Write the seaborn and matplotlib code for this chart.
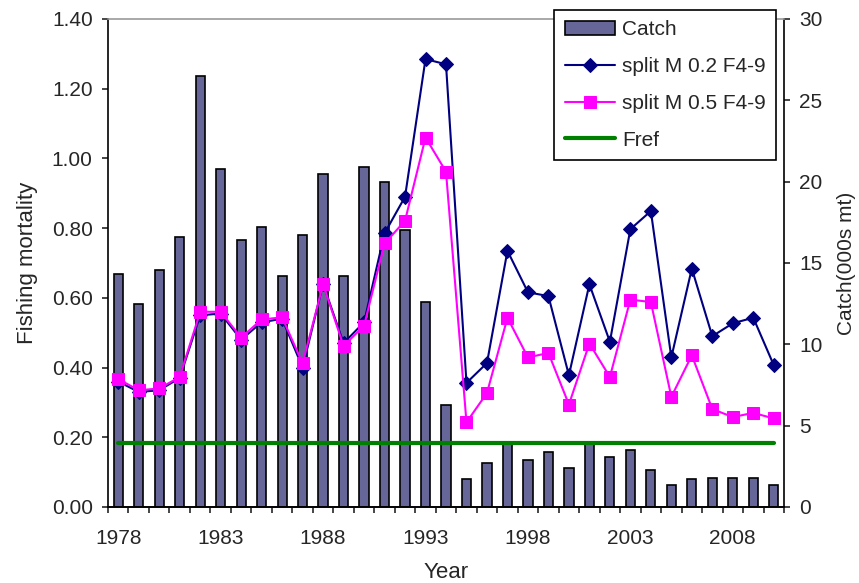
import numpy as np
import pandas as pd
import matplotlib
matplotlib.use("Agg")
import matplotlib.pyplot as plt
import seaborn as sns

# data
years = list(range(1978, 2011))
catch = [14.3, 12.5, 14.6, 16.6, 26.5, 20.8, 16.4, 17.2, 14.2, 16.7,
         20.5, 14.2, 20.9, 20.0, 17.0, 12.6, 6.3, 1.7, 2.7, 4.0,
         2.9, 3.4, 2.4, 4.0, 3.05, 3.5, 2.3, 1.35, 1.7, 1.8,
         1.8, 1.8, 1.35]
f_m02 = [0.36, 0.33, 0.335, 0.37, 0.55, 0.555, 0.48, 0.53, 0.54, 0.40,
         0.64, 0.47, 0.53, 0.785, 0.89, 1.285, 1.27, 0.356, 0.413, 0.735,
         0.616, 0.605, 0.378, 0.639, 0.474, 0.797, 0.849, 0.429, 0.684, 0.49,
         0.527, 0.543, 0.407]
f_m05 = [0.367, 0.335, 0.34, 0.373, 0.56, 0.56, 0.486, 0.538, 0.544, 0.412,
         0.639, 0.462, 0.52, 0.756, 0.821, 1.06, 0.962, 0.243, 0.327, 0.543,
         0.429, 0.442, 0.294, 0.469, 0.373, 0.595, 0.588, 0.316, 0.435, 0.281,
         0.258, 0.27, 0.254]
fref = 0.185
year_labels = [1978, 1983, 1988, 1993, 1998, 2003, 2008]

df = pd.DataFrame({"Year": years, "Catch": catch, "M02": f_m02, "M05": f_m05})

sns.set_style("ticks")
plt.rcParams["font.family"] = ["Liberation Sans", "DejaVu Sans"]
fs = 15
fs_lab = 16

fig = plt.figure(figsize=(8.59, 5.83), dpi=100)
ax = fig.add_axes([108 / 859, 1 - 507 / 583, 676 / 859, 488 / 583])
ax2 = ax.twinx()

# catch bars on the right axis, drawn underneath
sns.barplot(data=df, x="Year", y="Catch", native_scale=True, width=0.45,
            color="#666699", saturation=1, edgecolor="black", linewidth=1.2,
            ax=ax2, label="Catch")
ax.set_zorder(ax2.get_zorder() + 1)
ax.patch.set_visible(False)

sns.lineplot(data=df, x="Year", y="M02", ax=ax, color="#000080", lw=1.5,
             marker="D", markersize=7, markeredgecolor="#000080",
             label="split M 0.2 F4-9")
sns.lineplot(data=df, x="Year", y="M05", ax=ax, color="#FF00FF", lw=1.5,
             marker="s", markersize=9, markeredgecolor="#FF00FF",
             label="split M 0.5 F4-9")
ax.plot(years, [fref] * len(years), color="#008000", lw=3, label="Fref")

ax.set_xlim(1977.5, 2010.5)
ax.set_ylim(0, 1.4)
ax2.set_ylim(0, 30)
ax.set_yticks(np.arange(0, 1.41, 0.2))
ax.set_yticklabels([f"{v:.2f}" for v in np.arange(0, 1.41, 0.2)])
ax2.set_yticks(range(0, 31, 5))

ax.set_xticks(np.arange(1977.5, 2011, 1))
ax.set_xticklabels([])
ax.set_xticks(year_labels, minor=True)
ax.set_xticklabels([str(y) for y in year_labels], minor=True)
ax.tick_params(axis="x", which="major", length=4, width=1.2, direction="out")
ax.tick_params(axis="x", which="minor", length=0, pad=16, labelsize=fs)
ax.tick_params(axis="y", length=4, width=1.2, pad=7, labelsize=fs)
ax2.tick_params(axis="y", length=4, width=1.2, pad=7, labelsize=fs)

ax.set_xlabel("Year", fontsize=fs_lab, labelpad=10)
ax.set_ylabel("Fishing mortality", fontsize=fs_lab, labelpad=10)
ax2.set_ylabel("Catch(000s mt)", fontsize=fs, labelpad=10)
ax2.set_xlabel("")

for a in (ax, ax2):
    for s in a.spines.values():
        s.set_linewidth(1.2)
        s.set_color("black")
ax.spines["top"].set_color("#999999")
ax.spines["right"].set_visible(False)
ax2.spines["top"].set_visible(False)
ax2.spines["left"].set_visible(False)

h1, l1 = ax2.get_legend_handles_labels()
h2, l2 = ax.get_legend_handles_labels()
if ax2.get_legend():
    ax2.get_legend().remove()
leg = ax.legend(h1 + h2, l1 + l2, loc="upper right",
                bbox_to_anchor=(776 / 859, 1 - 10 / 583),
                bbox_transform=fig.transFigure, borderaxespad=0,
                fontsize=fs, handlelength=2.4, labelspacing=0.85,
                fancybox=False, framealpha=1, edgecolor="black",
                borderpad=0.5, handletextpad=0.35)
leg.get_frame().set_linewidth(1.2)

fig.savefig("out.png", dpi=100)
